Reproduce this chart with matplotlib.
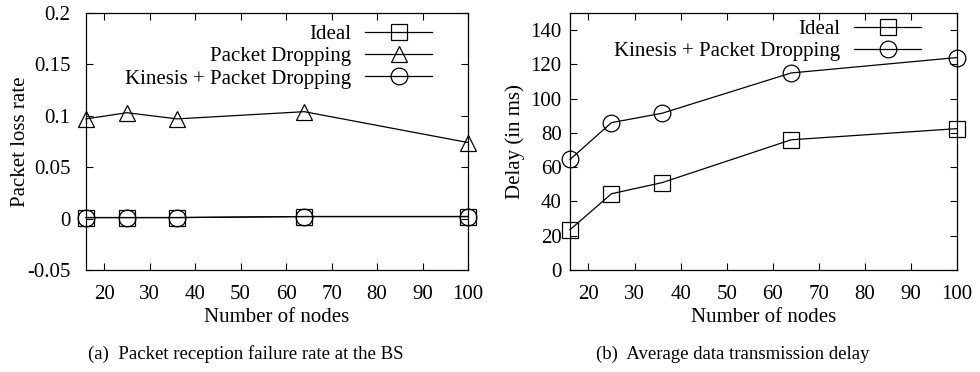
import numpy as np
import matplotlib.pyplot as plt

plt.rcParams['font.family'] = ['Liberation Serif', 'DejaVu Serif']

nodes = [16, 25, 36, 64, 100]

# (a) packet loss rate
loss_ideal = [0.001, 0.001, 0.001, 0.002, 0.002]
loss_drop = [0.097, 0.103, 0.097, 0.104, 0.074]
loss_kinesis = [0.001, 0.001, 0.001, 0.002, 0.002]

# (b) delay in ms
delay_ideal = [23.5, 44.5, 51, 76, 82.5]
delay_kinesis = [64.5, 86, 91.5, 115, 124]

xticks = [20, 30, 40, 50, 60, 70, 80, 90, 100]
yticks_a = [-0.05, 0, 0.05, 0.1, 0.15, 0.2]
yticklabels_a = ['-0.05', '0', '0.05', '0.1', '0.15', '0.2']
yticks_b = [0, 20, 40, 60, 80, 100, 120, 140]

fs = 15
mk = dict(color='black', lw=0.9, mfc='none', mec='black', mew=0.9, clip_on=False)

fig = plt.figure(figsize=(9.8, 3.72), dpi=100)
ax1 = fig.add_axes([86/980, 1-270/372, (468-86)/980, (270-13)/372])
ax2 = fig.add_axes([570/980, 1-270/372, (957-570)/980, (270-13)/372])

ax1.plot(nodes, loss_ideal, marker='s', ms=12, label='Ideal', **mk)
ax1.plot(nodes, loss_drop, marker='^', ms=12, label='Packet Dropping', **mk)
ax1.plot(nodes, loss_kinesis, marker='o', ms=12, label='Kinesis + Packet Dropping', **mk)
ax1.set_ylim(-0.05, 0.2)
ax1.set_yticks(yticks_a)
ax1.set_yticklabels(yticklabels_a)

ax2.plot(nodes, delay_ideal, marker='s', ms=12, label='Ideal', **mk)
ax2.plot(nodes, delay_kinesis, marker='o', ms=12, label='Kinesis + Packet Dropping', **mk)
ax2.set_ylim(0, 150)
ax2.set_yticks(yticks_b)

for ax in (ax1, ax2):
    ax.set_xlim(16, 100)
    ax.set_xticks(xticks)
    ax.set_xlabel('Number of nodes', fontsize=fs, labelpad=3)
    ax.tick_params(direction='in', length=5, width=0.8, top=True, right=True,
                   labelsize=fs)
    ax.tick_params(axis='x', pad=11)
    for s in ax.spines.values():
        s.set_linewidth(0.9)

ax1.tick_params(axis='y', pad=11)
ax2.tick_params(axis='y', pad=6)
ax1.set_ylabel('Packet loss rate', fontsize=fs, labelpad=-2)
ax2.set_ylabel('Delay (in ms)', fontsize=fs, labelpad=4)

leg_kw = dict(loc='upper right', frameon=False, markerfirst=False, fontsize=fs,
              handlelength=3.2, labelspacing=0.13, borderpad=0, borderaxespad=0,
              handletextpad=0.7)
ax1.legend(bbox_to_anchor=(0.906, 0.955), **leg_kw)
ax2.legend(bbox_to_anchor=(0.907, 0.975), **leg_kw)

fig.text(246/980, 1-354/372, '(a)  Packet reception failure rate at the BS',
         ha='center', va='center', fontsize=13.5)
fig.text(733/980, 1-354/372, '(b)  Average data transmission delay',
         ha='center', va='center', fontsize=13.5)

fig.savefig('out.png', dpi=100)
